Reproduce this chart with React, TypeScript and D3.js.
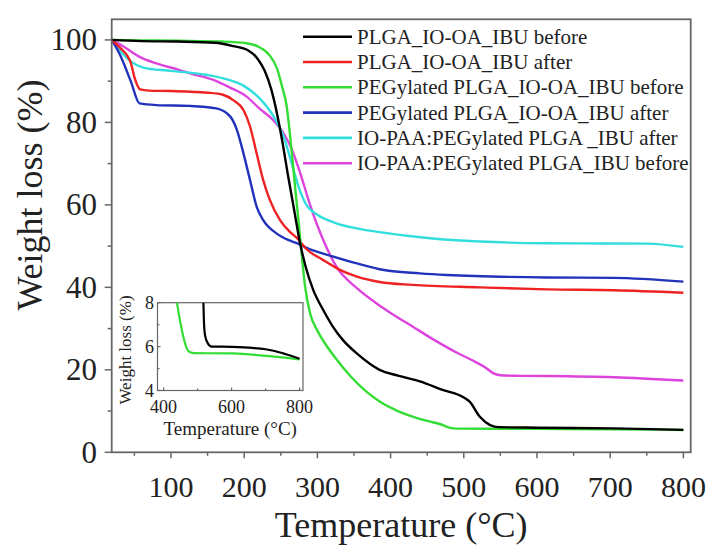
import React from "react";
import * as d3 from "d3";

const W = 713;
const H = 545;

// axis definitions
const xTicks = [100, 200, 300, 400, 500, 600, 700, 800];
const xMinorTicks = [50, 150, 250, 350, 450, 550, 650, 750];
const yTicks = [0, 20, 40, 60, 80, 100];
const yMinorTicks = [10, 30, 50, 70, 90];
const insetXTicks = [400, 600, 800];
const insetXMinor = [500, 700];
const insetYTicks = [4, 6, 8];
const insetYMinor = [5, 7];

const seriesNames = [
  "PLGA_IO-OA_IBU before",
  "PLGA_IO-OA_IBU after",
  "PEGylated PLGA_IO-OA_IBU before",
  "PEGylated PLGA_IO-OA_IBU after",
  "IO-PAA:PEGylated PLGA _IBU after",
  "IO-PAA:PEGylated PLGA_IBU before",
];
const seriesColors = ["#000000", "#ee2222", "#33dd33", "#2233bb", "#33dddd", "#dd44dd"];

// PLGA_IO-OA_IBU before (black)
const blackT = [19, 60, 110, 160, 185, 205, 218, 228, 237, 245, 252, 260, 268, 276, 284, 294, 308, 320, 335, 355, 385, 410, 440, 470, 500, 508, 522, 536, 548, 600, 705, 800];
const blackW = [100, 99.7, 99.6, 99.3, 98.5, 97.5, 95.5, 92.5, 88, 82, 75.5, 67, 59, 51, 45, 39.5, 34.5, 30.8, 27.2, 23.8, 20.0, 18.6, 17.2, 15.2, 13.3, 12.3, 8.6, 6.6, 6.1, 5.97, 5.8, 5.45];

// PLGA_IO-OA_IBU after (red)
const redT = [19, 30, 45, 50, 58, 70, 100, 150, 171, 185, 199, 208, 217, 226, 235, 249, 262, 272, 285, 308, 330, 354, 385, 430, 522, 614, 705, 800];
const redW = [100, 98.2, 94.5, 91, 88, 87.7, 87.6, 87.2, 86.7, 85.4, 83, 79, 72.5, 66, 61.2, 56.3, 53.5, 52, 49.3, 46.6, 44.3, 42.6, 41.3, 40.6, 40.0, 39.5, 39.3, 38.7];

// PEGylated PLGA_IO-OA_IBU before (green)
const greenT = [19, 60, 110, 170, 203, 220, 235, 245, 252, 258, 262, 266, 270, 274, 278, 283, 290, 300, 310, 325, 345, 365, 385, 410, 431, 450, 468, 480, 490, 600, 700, 800];
const greenW = [100, 99.9, 99.8, 99.6, 99.2, 98.3, 96.2, 93, 88.5, 84, 78, 71, 63.5, 56.5, 49, 40.5, 33.7, 29.5, 26.5, 22.8, 18.5, 15, 12.3, 10, 8.6, 7.6, 6.8, 6.0, 5.75, 5.69, 5.6, 5.42];

// PEGylated PLGA_IO-OA_IBU after (blue)
const blueT = [19, 30, 45, 57, 80, 126, 162, 181, 190, 199, 208, 217, 226, 244, 260, 272, 290, 308, 354, 385, 440, 477, 614, 705, 800];
const blueW = [100, 96.5, 90, 84.6, 84.2, 84, 83.4, 81.4, 78.2, 72.5, 66, 59.6, 56.3, 53.1, 51.5, 50.7, 49.2, 48.2, 45.8, 44.4, 43.4, 43, 42.4, 42.3, 41.4];

// IO-PAA:PEGylated PLGA _IBU after (cyan)
const cyanT = [19, 30, 45, 62, 100, 150, 175, 200, 220, 240, 255, 265, 275, 285, 300, 325, 354, 385, 454, 522, 614, 750, 800];
const cyanW = [100, 97.5, 94.8, 93.3, 92.5, 91.5, 90.5, 88.8, 86, 81.5, 76, 70, 64, 60, 57.6, 55.6, 54.3, 53.4, 51.9, 51.1, 50.7, 50.6, 49.8];

// IO-PAA:PEGylated PLGA_IBU before (magenta)
const magentaT = [19, 35, 57, 80, 112, 126, 158, 180, 203, 220, 240, 255, 265, 276, 290, 300, 308, 326, 354, 380, 400, 430, 460, 490, 515, 530, 540, 550, 570, 614, 705, 800];
const magentaW = [100, 98.4, 95.9, 94.3, 92.7, 91.9, 90.3, 88.5, 86.3, 83.5, 80.5, 77, 73.5, 68, 60, 55, 51.5, 45, 39.8, 36.2, 33.8, 30.5, 27.2, 24.2, 22, 20.5, 19.2, 18.7, 18.55, 18.5, 18.2, 17.4];

// inset (zoomed) readings
const insetBlackT = [514, 517, 519, 522, 530, 542, 600, 650, 700, 723, 760, 800];
const insetBlackW = [9, 8, 7, 6.5, 6.15, 6.0, 5.99, 5.95, 5.88, 5.81, 5.65, 5.45];
const insetGreenT = [428, 437, 448, 458, 468, 478, 490, 604, 700, 800];
const insetGreenW = [9, 8.2, 7.2, 6.45, 5.92, 5.74, 5.7, 5.69, 5.58, 5.42];

const seriesT = [blackT, redT, greenT, blueT, cyanT, magentaT];
const seriesW = [blackW, redW, greenW, blueW, cyanW, magentaW];
// draw order (back to front)
const drawOrder = [5, 4, 3, 1, 2, 0];

const FONT = "'Liberation Serif', 'Times New Roman', serif";

export default function App() {
  const left = 111.7, right = 690.7, top = 19.3, bottom = 452.3;
  const x = d3.scaleLinear().domain([19, 810]).range([left, right]);
  const y = d3.scaleLinear().domain([0, 105]).range([bottom, top]);

  const iL = 157.5, iR = 303, iT = 302.7, iB = 390.5;
  const ix = d3.scaleLinear().domain([382, 810]).range([iL, iR]);
  const iy = d3.scaleLinear().domain([4, 8]).range([iB, iT]);

  const line = (T: number[], V: number[], sx: any, sy: any) =>
    d3
      .line<number>()
      .x((_, i) => sx(T[i]))
      .y((d) => sy(d))
      .curve(d3.curveMonotoneX)(V) as string;

  const axisColor = "#666";
  const textColor = "#222";

  return (
    <svg width={W} height={H} style={{ display: "block", position: "absolute", left: 0, top: 0 }} fontFamily={FONT}>
      <rect x={0} y={0} width={W} height={H} fill="#fff" />
      <defs>
        <clipPath id="mainClip">
          <rect x={left} y={top} width={right - left} height={bottom - top} />
        </clipPath>
        <clipPath id="insetClip">
          <rect x={iL} y={iT} width={iR - iL} height={iB - iT} />
        </clipPath>
      </defs>

      {/* curves */}
      <g clipPath="url(#mainClip)">
        {drawOrder.map((k) => (
          <path key={k} d={line(seriesT[k], seriesW[k], x, y)} fill="none" stroke={seriesColors[k]} strokeWidth={2.4} strokeLinejoin="round" />
        ))}
      </g>

      {/* frame */}
      <rect x={left} y={top} width={right - left} height={bottom - top} fill="none" stroke={axisColor} strokeWidth={1.8} />

      {/* x ticks */}
      {xTicks.map((t) => (
        <g key={"xt" + t}>
          <line x1={x(t)} x2={x(t)} y1={bottom} y2={bottom + 6} stroke={axisColor} strokeWidth={1.5} />
          <text x={x(t)} y={497} textAnchor="middle" fontSize={30} fill={textColor}>{t}</text>
        </g>
      ))}
      {xMinorTicks.map((t) => (
        <line key={"xm" + t} x1={x(t)} x2={x(t)} y1={bottom} y2={bottom + 3.5} stroke={axisColor} strokeWidth={1.5} />
      ))}
      {/* y ticks */}
      {yTicks.map((t) => (
        <g key={"yt" + t}>
          <line x1={left - 7} x2={left} y1={y(t)} y2={y(t)} stroke={axisColor} strokeWidth={1.5} />
          <text x={97} y={y(t) + 10.5} textAnchor="end" fontSize={31} fill={textColor}>{t}</text>
        </g>
      ))}
      {yMinorTicks.map((t) => (
        <line key={"ym" + t} x1={left - 4} x2={left} y1={y(t)} y2={y(t)} stroke={axisColor} strokeWidth={1.5} />
      ))}

      {/* axis titles */}
      <text x={(left + right) / 2} y={537} textAnchor="middle" fontSize={36} fill={textColor}>Temperature (°C)</text>
      <text transform="translate(42,195) rotate(-90)" textAnchor="middle" fontSize={36} fill={textColor}>Weight loss (%)</text>

      {/* legend */}
      {seriesNames.map((n, i) => {
        const cy = 36.7 + 25.3 * i;
        return (
          <g key={"lg" + i}>
            <line x1={303} x2={352} y1={cy} y2={cy} stroke={seriesColors[i]} strokeWidth={2.6} />
            <text x={357} y={cy + 7} fontSize={21} fill={textColor}>{n}</text>
          </g>
        );
      })}

      {/* inset */}
      <rect x={iL} y={iT} width={iR - iL} height={iB - iT} fill="#fff" stroke={axisColor} strokeWidth={1.2} />
      <g clipPath="url(#insetClip)">
        <path d={line(insetGreenT, insetGreenW, ix, iy)} fill="none" stroke={seriesColors[2]} strokeWidth={2.2} />
        <path d={line(insetBlackT, insetBlackW, ix, iy)} fill="none" stroke={seriesColors[0]} strokeWidth={2.2} />
      </g>
      {insetXTicks.map((t) => (
        <g key={"ixt" + t}>
          <line x1={ix(t)} x2={ix(t)} y1={iB} y2={iB - 3} stroke={axisColor} strokeWidth={1.2} />
          <text x={ix(t)} y={413} textAnchor="middle" fontSize={18} fill={textColor}>{t}</text>
        </g>
      ))}
      {insetXMinor.map((t) => (
        <line key={"ixm" + t} x1={ix(t)} x2={ix(t)} y1={iB} y2={iB - 2} stroke={axisColor} strokeWidth={1.2} />
      ))}
      {insetYTicks.map((t) => (
        <g key={"iyt" + t}>
          <line x1={iL} x2={iL + 3} y1={iy(t)} y2={iy(t)} stroke={axisColor} strokeWidth={1.2} />
          <text x={154} y={iy(t) + 6} textAnchor="end" fontSize={18} fill={textColor}>{t}</text>
        </g>
      ))}
      {insetYMinor.map((t) => (
        <line key={"iym" + t} x1={iL} x2={iL + 2} y1={iy(t)} y2={iy(t)} stroke={axisColor} strokeWidth={1.2} />
      ))}
      <text x={(iL + iR) / 2} y={435} textAnchor="middle" fontSize={19} fill={textColor}>Temperature (°C)</text>
      <text transform="translate(131,350) rotate(-90)" textAnchor="middle" fontSize={17} fill={textColor}>Weight loss (%)</text>
    </svg>
  );
}
